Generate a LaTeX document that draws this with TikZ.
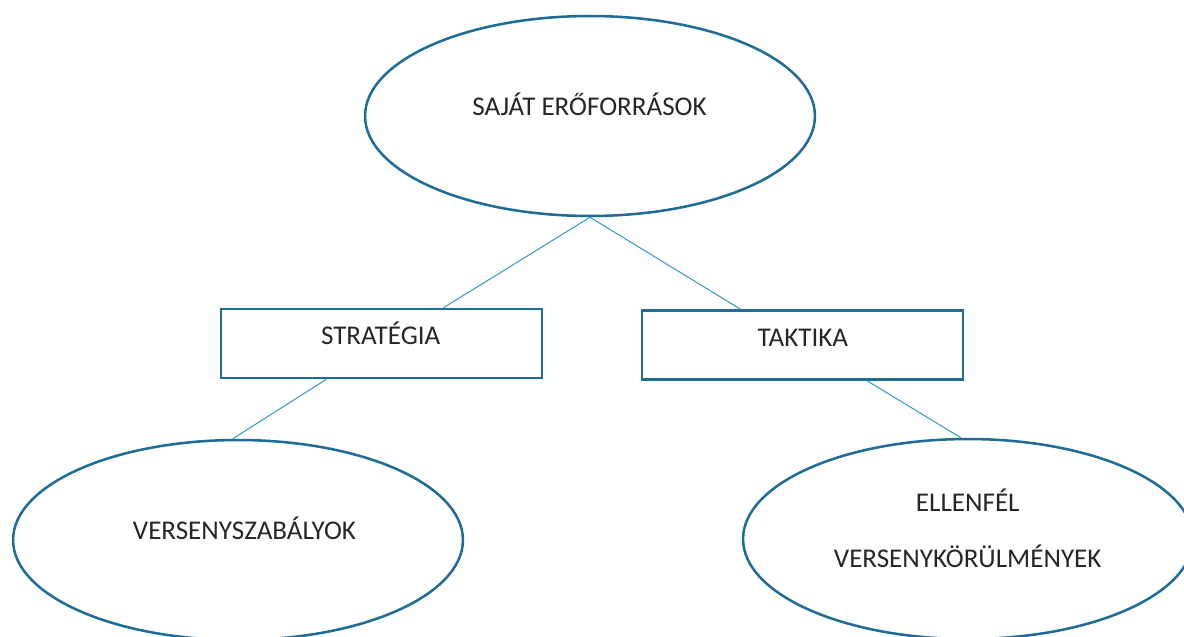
\documentclass[tikz,border=0pt]{standalone}
\usepackage{fontspec}
\setmainfont{Carlito}
\usetikzlibrary{shapes.geometric}

\definecolor{keret}{RGB}{31,108,150}
\definecolor{vonal}{RGB}{58,152,208}
\definecolor{betu}{RGB}{38,38,38}

\tikzset{
	oval/.style={ellipse, draw=keret, line width=1.45pt, minimum width=9cm, minimum height=4cm, inner sep=0pt},
	doboz/.style={rectangle, draw=keret, line width=1.45pt, minimum width=6.42cm, minimum height=1.38cm, inner sep=0pt},
	felirat/.style={text=betu, font=\fontsize{15.4}{18}\selectfont, inner sep=0pt, anchor=base},
	kapcs/.style={draw=vonal, line width=0.6pt}
}

\begin{document}
\begin{tikzpicture}[x=0.02cm, y=-0.02cm]
		\clip (0,0) rectangle (1184,636);
		
		% shapes
		\node [oval] (sajat) at (590,116) {};
		\node [doboz] (strat) at (381.5,343.5) {};
		\node [doboz] (takt) at (802.5,345) {};
		\node [oval] (szabaly) at (238,540) {};
		\node [oval] (ellen) at (968,539) {};
		
		% texts
		\node [felirat] (sajattxt) at (589.5,115) {SAJÁT ERŐFORRÁSOK};
		\node [felirat] (strattxt) at (380.7,344) {STRATÉGIA};
		\node [felirat] (takttxt) at (802.8,346) {TAKTIKA};
		\node [felirat] (szabalytxt) at (244.5,539) {VERSENYSZABÁLYOK};
		\node [felirat] (ellentxt) at (967.8,511) {ELLENFÉL};
		\node [felirat] (korultxt) at (967.7,567) {VERSENYKÖRÜLMÉNYEK};
		
		% connectors
		\draw [kapcs] (sajat.south) -- (strat.30);
		\draw [kapcs] (sajat.south) -- (takt.150);
		\draw [kapcs] (strat.213) -- (szabaly.93);
		\draw [kapcs] (takt.331) -- (ellen.94);
		
\end{tikzpicture}
\end{document}
